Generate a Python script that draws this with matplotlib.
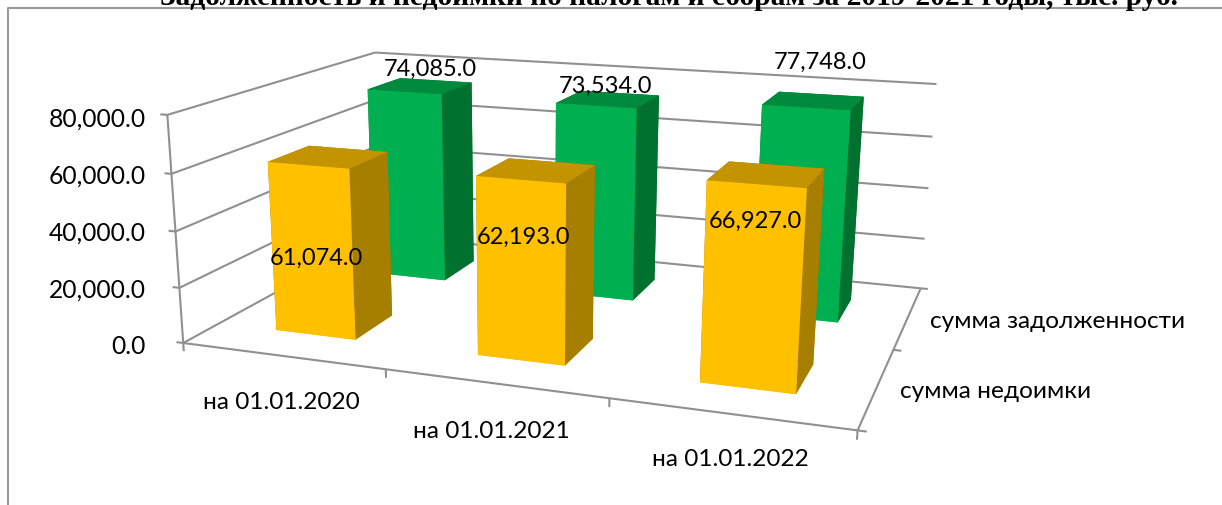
import numpy as np
import matplotlib
matplotlib.use('Agg')
import matplotlib.pyplot as plt
from matplotlib.lines import Line2D
from mpl_toolkits.mplot3d.art3d import Line3DCollection

W, H = 1222, 506
Z = 80000
categories = ['на 01.01.2020', 'на 01.01.2021', 'на 01.01.2022']
series = ['сумма недоимки', 'сумма задолженности']
yellow = [61074.0, 62193.0, 66927.0]
green = [74085.0, 73534.0, 77748.0]
zticks = [0, 20000, 40000, 60000, 80000]

# camera of the 3-D chart: kilo-pixel = P * (x, y, z/Z, 1)
P = np.array([[0.184401, 0.14897, -0.0231799, 0.183229],
              [0.00881247, -0.0227146, -0.233187, 0.34401],
              [-0.0470943, 0.132352, -0.0435864, 1.0]])
bar_w, bar_y0, bar_d = 0.4035, 0.3049, 0.3794

fig = plt.figure(figsize=(W / 100, H / 100), dpi=100)
ax = fig.add_axes([0, 0, 1, 1], projection='3d', computed_zorder=False)
ax.apply_aspect = lambda position=None: None
ax.set_axis_off()
ax.patch.set_visible(False)
base = ax.transData.transform([[0, 0], [1, 0], [0, 1]])
ox, oy = base[0]
kx = base[1, 0] - ox
ky = base[2, 1] - oy
r0 = (P[0] * 1000 - ox * P[2]) / kx
r1 = (H * P[2] - P[1] * 1000 - oy * P[2]) / ky
r2 = P[2] - 0.2 * np.array([0, 0, 0, 1.0])
M = np.vstack([r0, r1, r2, P[2]]) @ np.diag([1, 1, 1 / Z, 1.0])
ax.get_proj = lambda: M

segs = []
for z in zticks:
    segs += [[(0, 0, z), (0, 2, z)], [(0, 2, z), (3, 2, z)], [(-.035, 0, z), (0, 0, z)]]
segs += [[(0, 0, 0), (0, 0, Z)], [(0, 0, 0), (3, 0, 0)], [(3, 0, 0), (3, 2, 0)]]
for i in range(len(categories) + 1):
    segs.append([(i, 0, 0), (i, 0, -3000)])
for j in range(len(series) + 1):
    segs.append([(3, j, 0), (3.035, j, 0)])
ax.add_collection3d(Line3DCollection(segs, colors='#909090', linewidths=1.5, zorder=1), autolim=False)


def bars(vals, j, cols, zo):
    for i, v in enumerate(vals):
        ax.bar3d(i + .5 - bar_w / 2, j + bar_y0, 0, bar_w, bar_d, v,
                 color=[cols[0], cols[1], cols[0], cols[2], cols[2], cols[2]],
                 shade=False, linewidth=0, zorder=zo + i)


bars(green, 1, ('#00B050', '#008A3E', '#00712F'), 2)
bars(yellow, 0, ('#FFC000', '#C49400', '#A67E00'), 6)
ax.set_xlim(0, 3)
ax.set_ylim(0, 2)
ax.set_zlim(0, Z)


def txt(x, y, s, **k):
    k.setdefault('family', 'Lato')
    k.setdefault('fontsize', 17.6)
    k.setdefault('color', 'black')
    k.setdefault('ha', 'center')
    k.setdefault('va', 'center')
    fig.text(x / W, 1 - y / H, s, **k)


for z, yy in zip(zticks, [347, 290, 233, 176, 119]):
    txt(146, yy, f"{z:,.1f}", ha='right', fontsize=17.7)
for s, (x, y) in zip(categories, [(281, 403), (491, 432), (730, 460)]):
    txt(x, y, s)
txt(900, 392, series[0], ha='left')
txt(930, 322, series[1], ha='left')
for v, (x, y) in zip(yellow, [(316, 258), (524, 237), (755, 221)]):
    txt(x, y, f"{v:,.1f}", fontsize=17)
for v, (x, y) in zip(green, [(430, 69), (605, 86), (820, 62)]):
    txt(x, y, f"{v:,.1f}", fontsize=17)
fig.text(160 / W, 1 - 5 / H, 'Задолженность и недоимки по налогам и сборам за 2019-2021 годы, тыс. руб.',
         family='Liberation Serif', weight='bold', fontsize=21.15, va='baseline', ha='left')
fig.add_artist(Line2D([8 / W, 8 / W, 1], [0, 1 - 9 / H, 1 - 9 / H], color='#9a9a9a', lw=1.5))
fig.savefig('out.png', dpi=100)
